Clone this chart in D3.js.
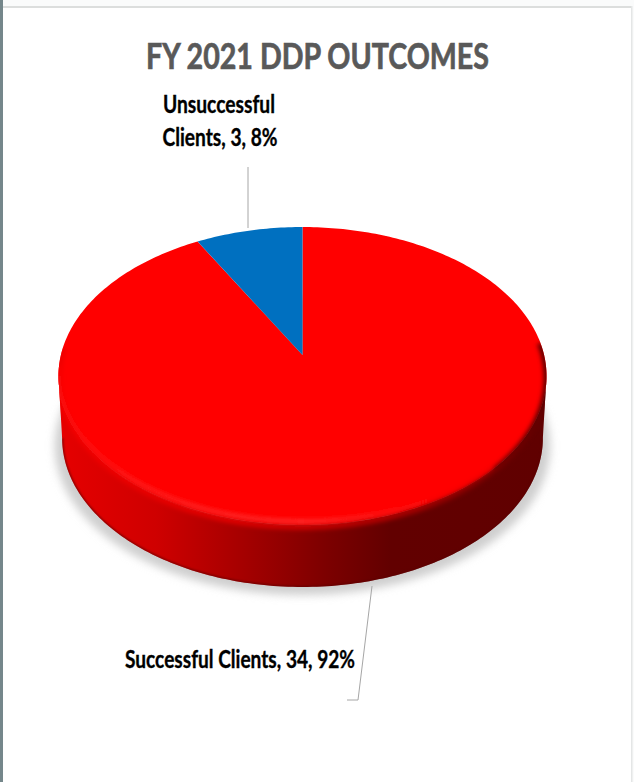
<!DOCTYPE html>
<html>
<head>
<meta charset="utf-8">
<script src="https://cdn.jsdelivr.net/npm/d3@7"></script>
<style>
html,body{margin:0;padding:0;background:#fff;}
svg{display:block;}
text{font-family:Lato,"Open Sans",sans-serif;font-weight:700;}
</style>
</head>
<body>
<div id="chart"></div>
<script>
// Outcome counts for the fiscal year
const categories = ["Successful Clients", "Unsuccessful Clients"];
const counts = [34, 3];
const percents = ["92%", "8%"];
const sliceColors = ["#ff0000", "#0070c0"];
const chartTitle = "FY 2021 DDP OUTCOMES";

const width = 634, height = 782;
const svg = d3.select("#chart").append("svg").attr("width", width).attr("height", height);
const defs = svg.append("defs");

// Tilted disc: a unit circle under a perspective projection, so that the
// centre of the pie sits above the centre of the visible ellipse.
const disc = {cx: 302.5, cy: 355, rx: 241.6, ry: 146, k: -0.141, depth: 62};
const xScale = d3.scaleLinear().domain([-1, 1]).range([disc.cx - disc.rx, disc.cx + disc.rx]);
const yScale = d3.scaleLinear().domain([-1, 1]).range([disc.cy - disc.ry, disc.cy + disc.ry]);
function project(angle, radius = 1, drop = 0, shrink = 1) {
  const u = Math.sin(angle) * radius, v = -Math.cos(angle) * radius;
  const w = 1 + disc.k * v;
  return [disc.cx + (xScale(u / w) - disc.cx) * shrink, yScale(v / w) + drop];
}
const rimLine = d3.line();
const step = Math.PI / 180;
const rim = (a0, a1, drop, shrink) => {
  const n = Math.max(2, Math.ceil(Math.abs(a1 - a0) / step));
  return d3.range(n + 1).map(i => project(a0 + (a1 - a0) * i / n, 1, drop, shrink));
};
function blurFilter(id, sd) {
  defs.append("filter").attr("id", id)
    .attr("filterUnits", "userSpaceOnUse")
    .attr("x", 0).attr("y", 0).attr("width", width).attr("height", height)
    .append("feGaussianBlur").attr("stdDeviation", sd);
}
function spanGradient(id, stops) {
  const g = defs.append("linearGradient").attr("id", id)
    .attr("gradientUnits", "userSpaceOnUse").attr("x1", 58).attr("x2", 547).attr("y1", 0).attr("y2", 0);
  stops.forEach(([o, c]) => g.append("stop").attr("offset", o).attr("stop-color", c));
}
blurFilter("soft", 4.5);
blurFilter("edgeBlur", 2.2);
blurFilter("glintBlur", 2);
blurFilter("lineBlur", 1);

// Page frame
svg.append("rect").attr("x", 0).attr("y", 0).attr("width", width).attr("height", height).attr("fill", "#fafbfb");
svg.append("rect").attr("x", 3).attr("y", 8).attr("width", 628).attr("height", height - 8).attr("fill", "#ffffff");
svg.append("rect").attr("x", 0).attr("y", 0).attr("width", 3).attr("height", height).attr("fill", "#75878b");
svg.append("rect").attr("x", 3).attr("y", 6).attr("width", 628).attr("height", 2).attr("fill", "#dcdedd");
svg.append("rect").attr("x", 631).attr("y", 6).attr("width", 1.5).attr("height", height).attr("fill", "#e4e6e6");

// Title
svg.append("text").attr("x", 317.5).attr("y", 69).attr("text-anchor", "middle")
  .attr("font-size", 36).attr("fill", "#595959").attr("stroke", "#595959").attr("stroke-width", 0.7)
  .attr("textLength", 343).attr("lengthAdjust", "spacingAndGlyphs")
  .text(chartTitle);

// Soft shadow under the disc
svg.append("path")
  .attr("d", rimLine(rim(0, 2 * Math.PI, disc.depth + 8, 1.015)) + "Z")
  .attr("fill", "#cfcfcf").attr("filter", "url(#soft)");

// Side wall
const tangent = Math.acos(disc.k);
spanGradient("side", [[0, "#e60000"], [0.2, "#cf0000"], [0.4, "#a00000"], [0.55, "#7c0000"], [0.68, "#620000"], [1, "#600000"]]);
const sidePts = rim(tangent, 2 * Math.PI - tangent, 0, 1)
  .concat(rim(2 * Math.PI - tangent, tangent, disc.depth, 0.985));
const sidePath = rimLine(sidePts) + "Z";
const facePath = rimLine(rim(0, 2 * Math.PI, 0, 1)) + "Z";
svg.append("path").attr("d", sidePath).attr("fill", "url(#side)");
defs.append("clipPath").attr("id", "sideClip").append("path").attr("d", sidePath);
const solidClip = defs.append("clipPath").attr("id", "solidClip");
solidClip.append("path").attr("d", sidePath);
solidClip.append("path").attr("d", facePath);

// Darker line along the lower edge of the wall
svg.append("g").attr("clip-path", "url(#sideClip)").append("path")
  .attr("d", rimLine(rim(2 * Math.PI - tangent, tangent, disc.depth, 0.985)))
  .attr("fill", "none").attr("stroke", "#5a0000").attr("stroke-width", 2)
  .attr("stroke-opacity", 0.8).attr("filter", "url(#lineBlur)");

// Top face, one wedge per category
const pie = d3.pie().value(d => d).sort(null);
const arcs = pie(counts);
svg.append("g").selectAll("path").data(arcs).join("path")
  .attr("d", d => rimLine([project(0, 0)].concat(rim(d.startAngle, d.endAngle, 0, 1))) + "Z")
  .attr("fill", (d, i) => sliceColors[i]);

// Soft transition between face and wall; dark on the right, red on the left
spanGradient("edge", [[0, "#ee0000"], [0.35, "#e00000"], [0.55, "#c00000"], [0.72, "#a00000"], [0.88, "#780000"], [1, "#600000"]]);
const bevel = svg.append("g").attr("clip-path", "url(#solidClip)");
bevel.append("path")
  .attr("d", rimLine(rim(Math.PI * 0.47, Math.PI * 1.52, 2, 1)))
  .attr("fill", "none").attr("stroke", "url(#edge)").attr("stroke-width", 6)
  .attr("filter", "url(#edgeBlur)");

// Bright glint just inside the near edge
spanGradient("glint", [[0, "#ff0c0c"], [0.2, "#ff2222"], [0.5, "#ff3030"], [0.68, "#ff1414"], [0.8, "#ff0000"], [1, "#ff0000"]]);
bevel.append("path")
  .attr("d", rimLine(rim(Math.PI * 0.75, Math.PI * 1.47, -3.5, 1)))
  .attr("fill", "none").attr("stroke", "url(#glint)").attr("stroke-width", 4)
  .attr("filter", "url(#glintBlur)");

// Leader lines
const leaderLine = d3.line();
const leaders = [
  [[248, 167], [248, 228]],
  [[372, 586], [358, 700], [347, 700]]
];
svg.append("g").selectAll("path").data(leaders).join("path")
  .attr("d", d => leaderLine(d)).attr("fill", "none").attr("stroke", "#a6a6a6").attr("stroke-width", 1);

// Data labels: category, count, percent
const unsuccessful = svg.append("text").attr("text-anchor", "middle").attr("font-size", 24)
  .attr("fill", "#000").attr("stroke", "#000").attr("stroke-width", 0.35);
unsuccessful.append("tspan").attr("x", 219).attr("y", 113)
  .attr("textLength", 112).attr("lengthAdjust", "spacingAndGlyphs")
  .text(categories[1].split(" ")[0]);
unsuccessful.append("tspan").attr("x", 220).attr("y", 146)
  .attr("textLength", 115).attr("lengthAdjust", "spacingAndGlyphs")
  .text(`${categories[1].split(" ")[1]}, ${counts[1]}, ${percents[1]}`);

svg.append("text").attr("x", 240).attr("y", 668).attr("text-anchor", "middle")
  .attr("font-size", 24).attr("fill", "#000").attr("stroke", "#000").attr("stroke-width", 0.35)
  .attr("textLength", 230).attr("lengthAdjust", "spacingAndGlyphs")
  .text(`${categories[0]}, ${counts[0]}, ${percents[0]}`);
</script>
</body>
</html>
